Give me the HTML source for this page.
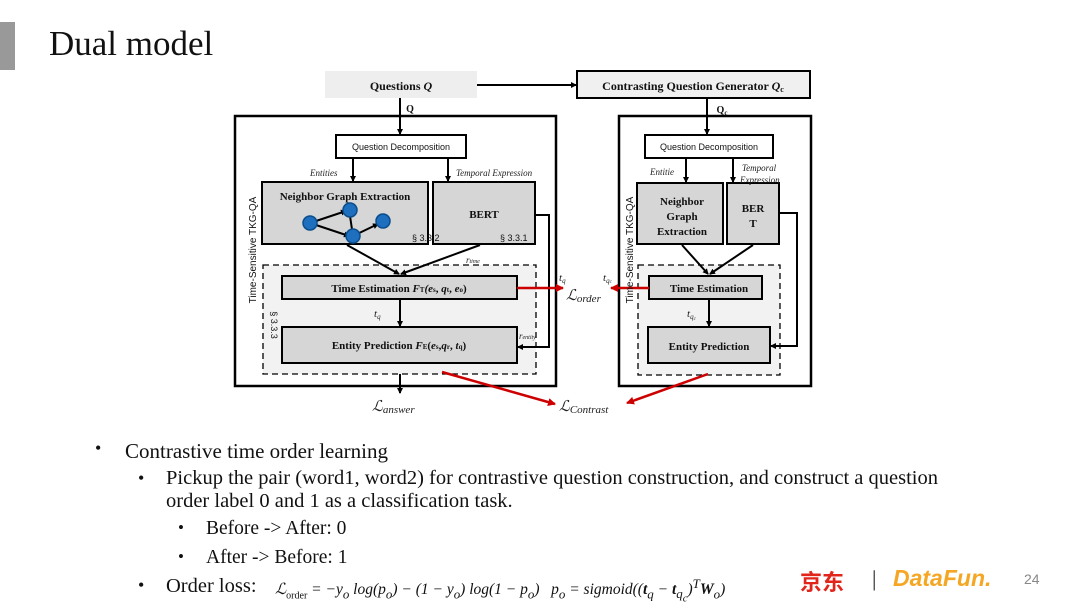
<!DOCTYPE html>
<html><head><meta charset="utf-8"><style>
body{margin:0;width:1080px;height:608px;background:#fff;position:relative;overflow:hidden;font-family:"Liberation Serif",serif;}
.t{position:absolute;color:#111;white-space:nowrap}
</style></head><body>
<div style="position:absolute;left:0;top:22px;width:15px;height:48px;background:#999"></div>
<div class="t" style="left:49px;top:24px;font-size:35px">Dual model</div>
<svg width="1080" height="608" style="position:absolute;left:0;top:0" font-family="Liberation Serif, serif">
<defs>
<marker id="a" markerWidth="6" markerHeight="6" refX="5" refY="3" orient="auto" markerUnits="userSpaceOnUse"><path d="M0,0L6,3L0,6z" fill="#000"/></marker>
<marker id="r" markerWidth="8" markerHeight="8" refX="7" refY="4" orient="auto" markerUnits="userSpaceOnUse"><path d="M0,0L8,4L0,8z" fill="#c00"/></marker>
</defs>
<g stroke="#000" fill="none">
<rect x="325" y="71" width="152" height="27" fill="#eee" stroke="none"/>
<line x1="477" y1="85" x2="576" y2="85" stroke-width="2" marker-end="url(#a)"/>
<rect x="577" y="71" width="233" height="27" fill="#f0f0f0" stroke-width="2"/>
<rect x="235" y="116" width="321" height="270" stroke-width="2.5"/>
<rect x="619" y="116" width="192" height="270" stroke-width="2.5"/>
<line x1="400" y1="98" x2="400" y2="134" stroke-width="2" marker-end="url(#a)"/>
<line x1="707" y1="98" x2="707" y2="134" stroke-width="2" marker-end="url(#a)"/>
<rect x="336" y="135" width="130" height="23" fill="#fff" stroke-width="2"/>
<rect x="645" y="135" width="128" height="23" fill="#fff" stroke-width="2"/>
<line x1="353" y1="158" x2="353" y2="181" stroke-width="2" marker-end="url(#a)"/>
<line x1="448" y1="158" x2="448" y2="181" stroke-width="2" marker-end="url(#a)"/>
<line x1="686" y1="158" x2="686" y2="182" stroke-width="2" marker-end="url(#a)"/>
<line x1="733" y1="158" x2="733" y2="182" stroke-width="2" marker-end="url(#a)"/>
<rect x="263" y="265" width="273" height="109" fill="#f2f2f2" stroke-dasharray="6,4" stroke-width="1.3"/>
<rect x="638" y="265" width="142" height="110" fill="#f2f2f2" stroke-dasharray="6,4" stroke-width="1.3"/>
<rect x="262" y="182" width="166" height="62" fill="#d6d6d6" stroke-width="2"/>
<rect x="433" y="182" width="102" height="62" fill="#d6d6d6" stroke-width="2"/>
<rect x="637" y="183" width="86" height="61" fill="#d6d6d6" stroke-width="2"/>
<rect x="727" y="183" width="52" height="61" fill="#d6d6d6" stroke-width="2"/>
<rect x="282" y="276" width="235" height="23" fill="#d6d6d6" stroke-width="2"/>
<rect x="282" y="327" width="235" height="36" fill="#d6d6d6" stroke-width="2"/>
<rect x="649" y="276" width="113" height="23" fill="#d6d6d6" stroke-width="2"/>
<rect x="648" y="327" width="122" height="36" fill="#d6d6d6" stroke-width="2"/>
<line x1="347" y1="245" x2="399" y2="274" stroke-width="2" marker-end="url(#a)"/>
<line x1="480" y1="245" x2="401" y2="274" stroke-width="2" marker-end="url(#a)"/>
<line x1="682" y1="245" x2="708" y2="274" stroke-width="2" marker-end="url(#a)"/>
<line x1="753" y1="245" x2="710" y2="274" stroke-width="2" marker-end="url(#a)"/>
<line x1="400" y1="299" x2="400" y2="326" stroke-width="2" marker-end="url(#a)"/>
<line x1="709" y1="299" x2="709" y2="326" stroke-width="2" marker-end="url(#a)"/>
<polyline points="535,215 549,215 549,347 518,347" stroke-width="2" marker-end="url(#a)"/>
<polyline points="779,213 797,213 797,346 771,346" stroke-width="2" marker-end="url(#a)"/>
<line x1="400" y1="374" x2="400" y2="393" stroke-width="2" marker-end="url(#a)"/>
<g stroke="#000" stroke-width="2"><line x1="310" y1="223" x2="346" y2="211" marker-end="url(#a)"/><line x1="310" y1="223" x2="349" y2="236" marker-end="url(#a)"/><line x1="353" y1="236" x2="350" y2="216"/><line x1="353" y1="236" x2="378" y2="224" marker-end="url(#a)"/></g>
<g fill="#1f6fbf" stroke="#0a4d8c" stroke-width="1.5"><circle cx="310" cy="223" r="7"/><circle cx="350" cy="210" r="7"/><circle cx="353" cy="236" r="7"/><circle cx="383" cy="221" r="7"/></g>
</g>
<g stroke="#c00" stroke-width="2.5">
<line x1="517" y1="288" x2="563" y2="288" marker-end="url(#r)"/>
<line x1="649" y1="288" x2="611" y2="288" marker-end="url(#r)"/>
<line x1="442" y1="372" x2="555" y2="404" marker-end="url(#r)"/>
<line x1="708" y1="374" x2="627" y2="403" marker-end="url(#r)"/>
</g>
<g font-weight="bold" font-size="12" text-anchor="middle" fill="#111">
<text x="401" y="90">Questions <tspan font-style="italic">Q</tspan></text>
<text x="693" y="90">Contrasting Question Generator <tspan font-style="italic">Q</tspan><tspan font-size="8" dy="2">c</tspan></text>
<text x="410" y="112" font-size="10">Q</text>
<text x="722" y="113" font-size="10">Q<tspan font-size="7" dy="2">c</tspan></text>
<text x="345" y="200" font-size="11">Neighbor Graph Extraction</text>
<text x="484" y="218" font-size="11">BERT</text>
<text x="682" y="205" font-size="11">Neighbor</text>
<text x="682" y="220" font-size="11">Graph</text>
<text x="682" y="235" font-size="11">Extraction</text>
<text x="753" y="212" font-size="11">BER</text>
<text x="753" y="227" font-size="11">T</text>
<text x="399" y="292" font-size="11">Time Estimation <tspan font-style="italic">F</tspan><tspan font-size="7">T</tspan><tspan font-style="italic">(e</tspan><tspan font-size="7">s</tspan>, <tspan font-style="italic">q</tspan><tspan font-size="7">t</tspan>, <tspan font-style="italic">e</tspan><tspan font-size="7">o</tspan>)</text>
<text x="399" y="349" font-size="11">Entity Prediction <tspan font-style="italic">F</tspan><tspan font-size="7">E</tspan>(<tspan font-style="italic">e</tspan><tspan font-size="7">s</tspan>,<tspan font-style="italic">q</tspan><tspan font-size="7">r</tspan>, <tspan font-style="italic">t</tspan><tspan font-size="7">q</tspan>)</text>
<text x="709" y="292" font-size="11">Time Estimation</text>
<text x="709" y="350" font-size="11">Entity Prediction</text>
</g>
<g font-family="Liberation Sans, sans-serif" font-size="9" text-anchor="middle" fill="#111">
<text x="401" y="150">Question Decomposition</text>
<text x="709" y="150">Question Decomposition</text>
<text x="256" y="250" font-size="10" transform="rotate(-90 256 250)">Time-Sensitive TKG-QA</text>
<text x="633" y="250" font-size="10" transform="rotate(-90 633 250)">Time-Sensitive TKG-QA</text>
<text x="271" y="325" transform="rotate(90 271 325)">§ 3.3.3</text>
<text x="412" y="241" text-anchor="start">§ 3.3.2</text>
<text x="500" y="241" text-anchor="start">§ 3.3.1</text>
</g>
<g font-style="italic" font-size="9" fill="#222">
<text x="310" y="176">Entities</text>
<text x="456" y="176">Temporal Expression</text>
<text x="650" y="175">Entitie</text>
<text x="742" y="171">Temporal</text>
<text x="740" y="183">Expression</text>
<text x="466" y="263">r<tspan font-size="6">time</tspan></text>
<text x="519" y="339">r<tspan font-size="6">entity</tspan></text>
<text x="374" y="317" font-size="11">t<tspan font-size="7" dy="2">q</tspan></text>
<text x="687" y="317" font-size="11">t<tspan font-size="7" dy="2">q</tspan><tspan font-size="5" dy="1">c</tspan></text>
<text x="559" y="281" font-size="11">t<tspan font-size="7" dy="2">q</tspan></text>
<text x="603" y="281" font-size="11">t<tspan font-size="7" dy="2">q</tspan><tspan font-size="5">c</tspan></text>
<text x="372" y="411" font-size="15">ℒ<tspan font-size="11" dy="2">answer</tspan></text>
<text x="559" y="411" font-size="15">ℒ<tspan font-size="11" dy="2">Contrast</tspan></text>
<text x="566" y="300" font-size="15">ℒ<tspan font-size="11" dy="2">order</tspan></text>
</g>
</svg>
<div class="t" style="left:95px;top:438px;font-size:18px">•</div>
<div class="t" style="left:125px;top:439px;font-size:21px">Contrastive time order learning</div>
<div class="t" style="left:138px;top:468px;font-size:18px">•</div>
<div class="t" style="left:166px;top:467px;font-size:20.5px;line-height:23px">Pickup the pair (word1, word2) for contrastive question construction, and construct a question<br>order label 0 and 1 as a classification task.</div>
<div class="t" style="left:178px;top:518px;font-size:17px">•</div>
<div class="t" style="left:206px;top:518px;font-size:19.5px">Before -&gt; After: 0</div>
<div class="t" style="left:178px;top:547px;font-size:17px">•</div>
<div class="t" style="left:206px;top:547px;font-size:19.5px">After -&gt; Before: 1</div>
<div class="t" style="left:138px;top:575px;font-size:18px">•</div>
<div class="t" style="left:166px;top:575px;font-size:20.5px">Order loss:</div>
<div class="t" style="left:275px;top:576px;font-size:15.5px;font-style:italic">ℒ<sub style="font-style:normal;font-size:10px">order</sub> = −y<sub>o</sub> log(p<sub>o</sub>) − (1 − y<sub>o</sub>) log(1 − p<sub>o</sub>) &nbsp; p<sub>o</sub> = sigmoid((<b>t</b><sub>q</sub> − <b>t</b><sub>q<sub>c</sub></sub>)<sup>T</sup><b>W</b><sub>o</sub>)</div>
<div class="t" style="left:800px;top:565px;font-size:22px;color:#e1251b;font-weight:bold;font-family:'Noto Sans CJK SC',sans-serif">京东</div>
<div class="t" style="left:872px;top:566px;font-size:22px;color:#222">|</div>
<div class="t" style="left:893px;top:565px;font-size:23px;color:#f5a623;font-weight:bold;font-style:italic;font-family:'Liberation Sans',sans-serif">DataFun.</div>
<div class="t" style="left:1024px;top:571px;font-size:14px;color:#888;font-family:'Liberation Sans',sans-serif">24</div>
</body></html>
